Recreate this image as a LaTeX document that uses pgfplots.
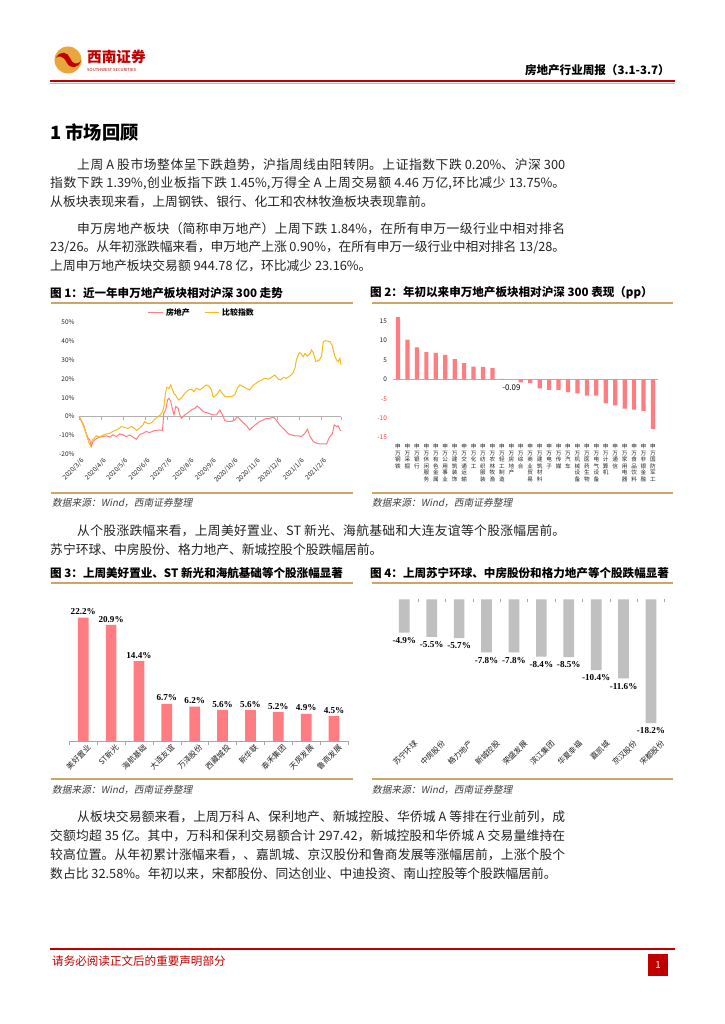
\documentclass[border=0pt]{standalone}
\usepackage{fontspec}
\setmainfont{Noto Sans CJK SC}
\newfontfamily\tnr{Liberation Serif}
\newfontfamily\slant{Noto Sans CJK SC}[FakeSlant=0.2]
\usepackage{pgfplots}
\pgfplotsset{compat=1.18}
\newdimen\U \U=0.8218pt
\definecolor{swred}{RGB}{192,0,0}
\definecolor{ltan}{RGB}{205,165,105}
\definecolor{pk}{RGB}{255,125,128}
\definecolor{yl}{RGB}{248,186,30}
\definecolor{gbar}{RGB}{192,192,192}
\definecolor{txt}{RGB}{35,35,35}
\definecolor{lgold}{RGB}{232,166,60}
\XeTeXlinebreaklocale "zh"
\XeTeXlinebreakskip=0pt plus 3pt minus 0.3pt
\newcommand\bt{\fontsize{10.5}{12}\selectfont}
\newcommand\jl[2]{\parbox{#1\U}{\bt\tolerance=10000\parfillskip=0pt\relax\noindent #2}}
\newcommand\srcline{{\slant\fontsize{8}{9}\selectfont 数据来源：Wind，西南证券整理}}
\begin{document}
\begin{tikzpicture}
\useasboundingbox (0,0) rectangle (724\U,-1024\U);
\fill[white] (0,0) rectangle (724\U,-1024\U);
\begin{scope}[x=\U,y=-\U]
% header
\fill[lgold] (68,60) circle [radius=11.1pt];
\fill[swred] (56,58) .. controls (60,50) and (68,52) .. (70,58) .. controls (72,64) and (78,66) .. (81,60) .. controls (79,69) and (70,69) .. (67,63) .. controls (64,56) and (58,55) .. (56,58) -- cycle;
\node[anchor=west, inner sep=0, text=swred, font=\fontsize{12}{13}\selectfont\bfseries] at (87,57) {西南证券};
\node[anchor=west, inner sep=0, text=swred, font=\fontsize{3.4}{4}\selectfont] at (87,70) {SOUTHWEST SECURITIES};
\node[anchor=east, inner sep=0, text=black, font=\fontsize{9.5}{10}\selectfont\bfseries] at (670,70) {房地产行业周报（3.1-3.7）};
\draw[swred, line width=1.6\U] (50,81) -- (675,81);
\draw[swred!35, line width=0.6\U] (50,83.2) -- (675,83.2);
% title
\node[anchor=west, inner sep=0, font=\fontsize{15}{16}\selectfont\bfseries] at (50,133) {1\ 市场回顾};
% paragraphs
\begin{scope}[every node/.style={anchor=west, inner sep=0, text=txt, font=\bt}]
\node at (77,165) {\jl{488}{上周 A 股市场整体呈下跌趋势，沪指周线由阳转阴。上证指数下跌 0.20\%、沪深 300}};
\node at (50,183.5) {\jl{515}{指数下跌 1.39\%,创业板指下跌 1.45\%,万得全 A 上周交易额 4.46 万亿,环比减少 13.75\%。}};
\node at (50,202) {从板块表现来看，上周钢铁、银行、化工和农林牧渔板块表现靠前。};
\node at (77,229) {\jl{488}{申万房地产板块（简称申万地产）上周下跌 1.84\%，在所有申万一级行业中相对排名}};
\node at (50,247.5) {\jl{515}{23/26。从年初涨跌幅来看，申万地产上涨 0.90\%，在所有申万一级行业中相对排名 13/28。}};
\node at (50,266) {上周申万地产板块交易额 944.78 亿，环比减少 23.16\%。};
\node at (77,531) {\jl{488}{从个股涨跌幅来看，上周美好置业、ST 新光、海航基础和大连友谊等个股涨幅居前。}};
\node at (50,549.5) {苏宁环球、中房股份、格力地产、新城控股个股跌幅居前。};
\node at (77,817) {\jl{488}{从板块交易额来看，上周万科 A、保利地产、新城控股、华侨城 A 等排在行业前列，成}};
\node at (50,836) {\jl{515}{交额均超 35 亿。其中，万科和保利交易额合计 297.42，新城控股和华侨城 A 交易量维持在}};
\node at (50,855) {\jl{515}{较高位置。从年初累计涨幅来看，、嘉凯城、京汉股份和鲁商发展等涨幅居前，上涨个股个}};
\node at (50,874) {数占比 32.58\%。年初以来，宋都股份、同达创业、中迪投资、南山控股等个股跌幅居前。};
\end{scope}
% captions
\begin{scope}[every node/.style={anchor=west, inner sep=0, text=black, font=\fontsize{9.5}{10}\selectfont\bfseries}]
\node at (50,293) {图 1：近一年申万地产板块相对沪深 300 走势};
\node at (370,293) {图 2：年初以来申万地产板块相对沪深 300 表现（pp）};
\node at (50,573) {图 3：上周美好置业、ST 新光和海航基础等个股涨幅显著};
\node at (370,573) {图 4：上周苏宁环球、中房股份和格力地产等个股跌幅显著};
\end{scope}
\begin{scope}[ltan, line width=1.5\U]
\draw (51,303) -- (353,303); \draw (371.7,303) -- (673,303);
\draw (51,493) -- (353,493); \draw (371.7,493) -- (673,493);
\draw (51,583) -- (353,583); \draw (371.7,583) -- (673,583);
\draw (51,779) -- (353,779); \draw (371.7,779) -- (673,779);
\end{scope}
\begin{scope}[every node/.style={anchor=west, inner sep=0, text=black!75}]
\node at (52,503) {\srcline}; \node at (372,503) {\srcline};
\node at (52,790) {\srcline}; \node at (372,790) {\srcline};
\end{scope}
% footer
\draw[swred, line width=1.2\U] (50,949) -- (675,949);
\node[anchor=west, inner sep=0, text=swred, font=\fontsize{9.5}{10}\selectfont] at (52,961) {请务必阅读正文后的重要声明部分};
\fill[swred] (648,954) rectangle (668,976);
\node[text=white, inner sep=0, font=\fontsize{8}{9}\selectfont] at (658,965) {1};
\end{scope}

% ---------- Chart 1 ----------
\begin{axis}[
 at={(79\U,-454.3\U)}, anchor=south west, scale only axis,
 width=262\U, height=132.1\U,
 xmin=0, xmax=364, ymin=-20, ymax=50, clip=false,
 axis line style={draw=none}, major tick length=0,
 ytick={-20,-10,...,50},
 yticklabel={\pgfmathprintnumber[assume math mode=true]{\tick}\%},
 xtick={0,31,61,92,122,153,184,214,245,275,306,337},
 xticklabels={2020/3/6,2020/4/6,2020/5/6,2020/6/6,2020/7/6,2020/8/6,2020/9/6,2020/10/6,2020/11/6,2020/12/6,2021/1/6,2021/2/6},
 x tick label style={rotate=45, anchor=north east, font=\fontsize{5.3}{6}\selectfont, inner sep=1pt, yshift=-2\U},
 y tick label style={font=\fontsize{5.3}{6}\selectfont, inner sep=1pt, xshift=-3\U},
 tick label style={text=txt},
 legend style={at={(0.47,1)}, anchor=south, draw=none, fill=none, font=\fontsize{6.5}{7}\selectfont\bfseries, legend columns=2, /tikz/every even column/.append style={column sep=12\U}, inner sep=1pt, yshift=1\U},
 legend image code/.code={\draw[#1] (0pt,0pt) -- (12pt,0pt);},
]
\addplot[gray!60, line width=0.7\U, forget plot] coordinates {(0,0) (364,0)};
\addplot[gray!60, only marks, mark=|, mark size=1.3\U, forget plot] coordinates {(0,-1)(31,-1)(61,-1)(92,-1)(122,-1)(153,-1)(184,-1)(214,-1)(245,-1)(275,-1)(306,-1)(337,-1)(364,-1)};
\addplot[pk, line width=1\U] coordinates {(0,0)(3,-2.1)(6.5,-4.4)(9,-7.9)(12.5,-11.5)(15,-12.3)(17,-15.9)(19.5,-13.2)(23,-12.0)(28,-10.9)(33,-10.6)(38,-10.2)(43,-10.9)(47,-9.7)(52,-10.6)(56.5,-9.2)(61,-9.7)(66,-10.6)(70.5,-9.7)(75,-10.9)(80,-12.0)(84,-9.7)(89,-8.8)(93.6,-7.9)(98,-8.5)(105,-7.4)(112,-7.1)(116,-7.4)(117.8,1.8)(120.5,3.5)(123,8.8)(125,9.7)(127.5,7.9)(130,3.5)(132,0.9)(134.4,5.3)(137.7,4.4)(140,0.9)(142.3,-0.9)(147,0.9)(151.6,2.1)(156,3.5)(161,4.4)(164,5.6)(168,4.4)(172.5,2.6)(177,2.1)(182,1.4)(186.4,0.9)(191,0.9)(195.6,3.5)(199.4,0.9)(202.6,-2.1)(207,-2.6)(212,-2.6)(216.5,-1.8)(220,0)(223.5,-1.4)(228,-3.2)(233,-4.9)(237,-7.1)(242,-5.3)(246.6,-3.9)(251,-2.6)(256,-1.8)(260.5,-0.9)(265,-0.9)(270,-0.4)(272,-0.9)(277,-3.5)(281,-5.3)(286,-7.1)(291,-9.2)(295,-9.7)(300,-10.2)(305,-10.2)(309,-10.6)(314,-8.8)(317.6,-6.7)(321,-10.6)(325.5,-13.2)(330,-14.1)(335,-14.5)(339,-14.5)(344,-14.5)(346.3,-12.3)(348.6,-10.6)(352,-9.2)(354.6,-4.4)(358,-5.3)(360,-4.9)(362.5,-7.1)(364,-7.6)};
\addlegendentry{房地产}
\addplot[yl, line width=1\U] coordinates {(0,0)(3,-1.8)(6.5,-5.3)(9,-7.9)(11,-10.6)(14,-14.1)(16,-15.5)(18.5,-12.3)(21,-11.5)(24,-10.2)(29,-10.9)(33,-9.9)(38,-9.2)(43,-8.8)(47,-7.9)(52,-7.1)(56,-6.2)(59,-5.3)(63.5,-5.8)(68,-6.3)(73,-5.3)(77,-6.2)(80,-7.4)(84,-6.2)(89,-4.4)(91,-2.6)(96,-3.9)(101,-3.2)(105,-1.4)(110,0)(113,0.9)(116,2.6)(118,5.3)(119,8.8)(120.5,13.2)(122,15.5)(125,14.9)(127.5,16.8)(130,14.1)(132,12.3)(134,11.5)(138,8.8)(142,9.7)(147,12.3)(152,14.1)(156,14.5)(159.5,13.2)(163,15.0)(168,14.1)(172.5,15.5)(177,16.8)(181,15.9)(184,14.1)(186.5,10.2)(191,11.5)(195.6,14.1)(199,12.3)(203,10.6)(207,10.6)(212,10.6)(216.5,11.5)(220,15.0)(223.5,16.8)(228,15.9)(233,14.8)(237,14.1)(242,16.6)(246,17.6)(249,18.5)(254,19.4)(258,20.3)(263,19.8)(267.5,20.8)(272,22.0)(277,19.8)(280,19.4)(284,20.8)(288,20.3)(293,21.5)(297,22.9)(300,25.6)(302,30.0)(306,33.9)(308,33.5)(311.5,31.7)(314,33.5)(317,32.1)(321,33.2)(323,35.3)(325.5,33.9)(329,29.1)(334,30.0)(337,32.1)(339.4,39.7)(343,40.2)(348.6,39.7)(352,37.4)(355.6,31.7)(358,30.0)(360,29.1)(362.5,30.9)(364,27.3)};
\addlegendentry{比较指数}
\end{axis}

% ---------- Chart 2 ----------
\begin{axis}[
 at={(393.3\U,-437.7\U)}, anchor=south west, scale only axis,
 width=264.4\U, height=116.7\U,
 xmin=-0.5, xmax=27.5, ymin=-15, ymax=15, clip=false,
 axis line style={draw=none}, major tick length=0,
 ytick={-15,-10,-5,0,5,10,15},
 yticklabels={\textcolor{red!80}{-15},\textcolor{red!80}{-10},\textcolor{red!80}{-5},0,5,10,15},
 y tick label style={font=\fontsize{5.3}{6}\selectfont, inner sep=1pt, xshift=-5\U, text=txt},
 xtick={0,...,27},
 xticklabels={{申\\万\\钢\\铁},{申\\万\\采\\掘},{申\\万\\银\\行},{申\\万\\休\\闲\\服\\务},{申\\万\\有\\色\\金\\属},{申\\万\\公\\用\\事\\业},{申\\万\\建\\筑\\装\\饰},{申\\万\\交\\通\\运\\输},{申\\万\\化\\工},{申\\万\\纺\\织\\服\\装},{申\\万\\农\\林\\牧\\渔},{申\\万\\轻\\工\\制\\造},{申\\万\\房\\地\\产},{申\\万\\综\\合},{申\\万\\商\\业\\贸\\易},{申\\万\\建\\筑\\材\\料},{申\\万\\电\\子},{申\\万\\传\\媒},{申\\万\\汽\\车},{申\\万\\机\\械\\设\\备},{申\\万\\医\\药\\生\\物},{申\\万\\电\\气\\设\\备},{申\\万\\计\\算\\机},{申\\万\\通\\信},{申\\万\\家\\用\\电\\器},{申\\万\\食\\品\\饮\\料},{申\\万\\非\\银\\金\\融},{申\\万\\国\\防\\军\\工}},
 x tick label style={font=\fontsize{4.6}{5.4}\selectfont, align=center, anchor=north, inner sep=0pt, yshift=-6\U, text=txt},
]
\addplot[gray!60, line width=0.7\U] coordinates {(-0.5,0)(27.5,0)};
\addplot[ybar, bar width=4.2\U, fill=pk, draw=none] coordinates {(0,16.0)(1,10.2)(2,8.2)(3,7.0)(4,6.8)(5,6.3)(6,5.2)(7,4.2)(8,3.3)(9,3.2)(10,2.9)(11,0.1)(12,-0.09)(13,-0.8)(14,-1.0)(15,-2.3)(16,-2.7)(17,-2.7)(18,-3.3)(19,-3.6)(20,-4.2)(21,-4.2)(22,-6.2)(23,-6.7)(24,-7.5)(25,-7.8)(26,-8.1)(27,-12.7)};
\node[font=\fontsize{6.5}{7}\selectfont, inner sep=0] at (axis cs:12,-2.2) {-0.09};
\end{axis}

% ---------- Chart 3 ----------
\begin{axis}[
 at={(69.3\U,-741\U)}, anchor=south west, scale only axis,
 width=278.7\U, height=138.9\U,
 xmin=-0.5, xmax=9.5, ymin=0, ymax=25, clip=false,
 axis line style={draw=none}, major tick length=0, ytick=\empty,
 xtick={0,...,9},
 xticklabels={美好置业,ST新光,海航基础,大连友谊,万泽股份,西藏城投,新华联,泰禾集团,天房发展,鲁商发展},
 x tick label style={rotate=45, anchor=north east, font=\fontsize{6.3}{7}\selectfont, inner sep=1pt, yshift=-3\U, xshift=2\U, text=txt},
]
\addplot[gray!70, line width=0.7\U] coordinates {(-0.5,0)(9.5,0)};
\addplot[only marks, mark=|, gray!70, mark size=2\U] coordinates {(-0.5,-0.36)(0.5,-0.36)(1.5,-0.36)(2.5,-0.36)(3.5,-0.36)(4.5,-0.36)(5.5,-0.36)(6.5,-0.36)(7.5,-0.36)(8.5,-0.36)(9.5,-0.36)};
\addplot[ybar, bar width=10.7\U, fill=pk, draw=none,
 nodes near coords={\pgfmathprintnumber[fixed,precision=1,fixed zerofill,assume math mode=true]{\pgfplotspointmeta}\%},
 every node near coord/.append style={font=\tnr\bfseries\fontsize{7.5}{8}\selectfont, text=black, inner sep=2pt}]
 coordinates {(0,22.2)(1,20.9)(2,14.4)(3,6.7)(4,6.2)(5,5.6)(6,5.6)(7,5.2)(8,4.9)(9,4.5)};
\end{axis}

% ---------- Chart 4 ----------
\begin{axis}[
 at={(390.6\U,-599.3\U)}, anchor=north west, scale only axis,
 width=274.1\U, height=136.2\U,
 xmin=-0.5, xmax=9.5, ymin=-20, ymax=0, clip=false,
 axis line style={draw=none}, major tick length=0, ytick=\empty,
 xtick={0,...,9},
 xticklabels={苏宁环球,中房股份,格力地产,新城控股,荣盛发展,滨江集团,华夏幸福,嘉凯城,京汉股份,宋都股份},
 x tick label style={rotate=45, anchor=north east, font=\fontsize{6.3}{7}\selectfont, inner sep=1pt, yshift=-8\U, xshift=5\U, text=txt},
]
\addplot[only marks, mark=|, gray!70, mark size=1.5\U] coordinates {(0.5,-0.2)(1.5,-0.2)(2.5,-0.2)(3.5,-0.2)(4.5,-0.2)(5.5,-0.2)(6.5,-0.2)(7.5,-0.2)(8.5,-0.2)(9.5,-0.2)};
\addplot[ybar, bar width=10.7\U, fill=gbar, draw=none,
 nodes near coords={\pgfmathprintnumber[fixed,precision=1,fixed zerofill,assume math mode=true]{\pgfplotspointmeta}\%},
 every node near coord/.append style={font=\tnr\bfseries\fontsize{7.5}{8}\selectfont, text=black, inner sep=2pt, yshift=-2\U}]
 coordinates {(0,-4.9)(1,-5.5)(2,-5.7)(3,-7.8)(4,-7.8)(5,-8.4)(6,-8.5)(7,-10.4)(8,-11.6)(9,-18.2)};
\end{axis}
\end{tikzpicture}
\end{document}
